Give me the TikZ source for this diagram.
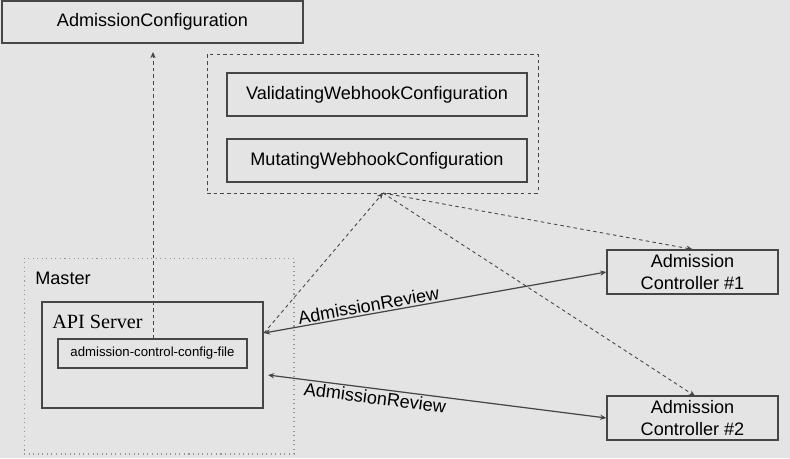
\documentclass[tikz,border=0pt]{standalone}
\usepackage{fontspec}
\setmainfont{Liberation Sans}
\newfontfamily\apifont{Liberation Serif}
\usetikzlibrary{arrows.meta}
\definecolor{bgcol}{RGB}{228,228,228}
\definecolor{linecol}{RGB}{70,70,70}
\definecolor{dotcol}{RGB}{150,150,150}
\begin{document}
\begin{tikzpicture}[x=0.02cm, y=-0.02cm,
  box/.style={draw=linecol, line width=0.8pt, inner sep=0pt, align=center, font=\fontsize{10.3}{12.2}\selectfont},
  grpbox/.style={draw=linecol, line width=0.5pt, dash pattern=on 2pt off 1.8pt, inner sep=0pt},
  dashlink/.style={draw=linecol, line width=0.5pt, dash pattern=on 2pt off 1.8pt, -{Stealth[length=3.5pt,width=3pt]}},
  reviewlink/.style={draw=linecol, line width=0.7pt, {Stealth[length=3.5pt,width=3pt]}-{Stealth[length=3.5pt,width=3pt]}},
  revlabel/.style={font=\fontsize{10.3}{12}\selectfont, sloped, inner sep=1pt}]
\useasboundingbox[fill=bgcol] (0, 0) rectangle (790, 458);
% configuration objects
\node[box, minimum width=6.02cm, minimum height=0.84cm] (admcfg) at(152.5, 22) {AdmissionConfiguration};
\node[grpbox, minimum width=6.62cm, minimum height=2.78cm] (webhooks) at(372.5, 123.5) {};
\node[box, minimum width=6.0cm, minimum height=0.86cm] (validating) at(377, 94.5) {ValidatingWebhookConfiguration};
\node[box, minimum width=6.0cm, minimum height=0.86cm] (mutating) at(377, 160.5) {MutatingWebhookConfiguration};
% master
\node[draw=dotcol, line width=0.6pt, dotted, minimum width=5.4cm, minimum height=3.92cm, inner sep=0pt] (master) at(159, 356) {};
\node[anchor=west, font=\fontsize{10.3}{12}\selectfont, inner sep=0pt] (mastertxt) at(35, 278) {Master};
\node[box, minimum width=4.42cm, minimum height=2.12cm] (api) at(152.5, 355) {};
\node[anchor=west, font=\apifont\fontsize{11.5}{13}\selectfont, inner sep=0pt] (apitxt) at(52, 322) {API Server};
\node[box, minimum width=3.78cm, minimum height=0.58cm, font=\fontsize{7.5}{9}\selectfont] (cfgfile) at(152.5, 353.5) {admission-control-config-file};
% controllers
\node[box, minimum width=3.42cm, minimum height=0.88cm] (ctrl1) at(692.5, 272) {Admission\\Controller \#1};
\node[box, minimum width=3.42cm, minimum height=0.88cm] (ctrl2) at(692.5, 418) {Admission\\Controller \#2};
% link points
\coordinate (cfgtip) at(153, 52);
\coordinate (hub) at(383, 193);
\coordinate (apitop) at(264, 333);
\coordinate (apibot) at(268, 375);
% connectors
\draw[dashlink] (cfgfile.north -| cfgtip) -- (cfgtip);
\draw[dashlink] (apitop) -- (hub);
\draw[dashlink] (hub) -- (ctrl1.north);
\draw[dashlink] (hub) -- (695, 396);
\draw[reviewlink] (apitop) -- node[revlabel, pos=0.31, above] {AdmissionReview} (ctrl1.west);
\draw[reviewlink] (apibot) -- node[revlabel, pos=0.32, below] {AdmissionReview} (ctrl2.west);
\end{tikzpicture}
\end{document}
